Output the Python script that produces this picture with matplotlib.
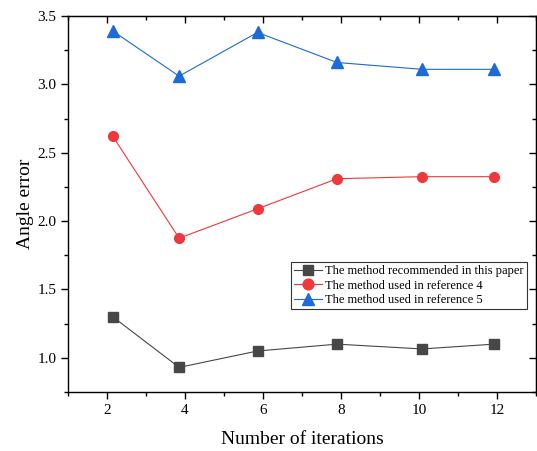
import numpy as np
import matplotlib.pyplot as plt
from matplotlib.ticker import MultipleLocator

plt.rcParams['font.family'] = ['Liberation Serif', 'DejaVu Serif']

iterations = [2.15, 3.85, 5.86, 7.9, 10.08, 11.92]
err_paper = [1.30, 0.93, 1.05, 1.10, 1.065, 1.10]
err_ref4 = [2.62, 1.875, 2.09, 2.31, 2.325, 2.325]
err_ref5 = [3.39, 3.06, 3.38, 3.16, 3.11, 3.11]

labels = ["The method recommended in this paper",
          "The method used in reference 4",
          "The method used in reference 5"]

fig = plt.figure(figsize=(5.37, 4.51), dpi=100)
ax = fig.add_axes([0.1266, 0.1308, 0.8714, 0.8337])

ax.plot(iterations, err_paper, color='#474747', marker='s', markersize=7, lw=0.8, label=labels[0])
ax.plot(iterations, err_ref4, color='#F0373C', marker='o', markersize=7, lw=0.8, label=labels[1])
ax.plot(iterations, err_ref5, color='#1D6AD9', marker='^', markersize=8, lw=0.8, label=labels[2])

ax.set_xlim(1, 13)
ax.set_ylim(0.75, 3.5)
ax.xaxis.set_major_locator(MultipleLocator(2))
ax.xaxis.set_minor_locator(MultipleLocator(1))
ax.yaxis.set_major_locator(MultipleLocator(0.5))
ax.yaxis.set_minor_locator(MultipleLocator(0.25))
ax.xaxis.set_major_formatter(plt.FormatStrFormatter('%d'))
ax.yaxis.set_major_formatter(plt.FormatStrFormatter('%.1f'))

ax.tick_params(which='both', direction='out', labelsize=11, width=1)
ax.tick_params(which='major', length=5)
ax.tick_params(which='minor', length=3)
for s in ax.spines.values():
    s.set_linewidth(1)

# mirrored inward ticks on top/right
sec_x = ax.secondary_xaxis('top')
sec_x.xaxis.set_major_locator(MultipleLocator(2))
sec_x.xaxis.set_minor_locator(MultipleLocator(1))
sec_x.tick_params(which='both', direction='in', labeltop=False, width=1)
sec_x.tick_params(which='major', length=5)
sec_x.tick_params(which='minor', length=3)
sec_y = ax.secondary_yaxis('right')
sec_y.yaxis.set_major_locator(MultipleLocator(0.5))
sec_y.yaxis.set_minor_locator(MultipleLocator(0.25))
sec_y.tick_params(which='both', direction='in', labelright=False, width=1)
sec_y.tick_params(which='major', length=5)
sec_y.tick_params(which='minor', length=3)

ax.set_xlabel("Number of iterations", fontsize=14, labelpad=10)
ax.set_ylabel("Angle error", fontsize=14, labelpad=2)

leg = ax.legend(loc='upper right', bbox_to_anchor=(0.981, 0.346), borderaxespad=0,
                fontsize=9, fancybox=False, framealpha=1, edgecolor='#333333',
                handlelength=2.2, handletextpad=0.3, labelspacing=0.2, borderpad=0.25,
                markerscale=1.1)
leg.get_frame().set_linewidth(0.8)

plt.savefig("out.png", dpi=100)
